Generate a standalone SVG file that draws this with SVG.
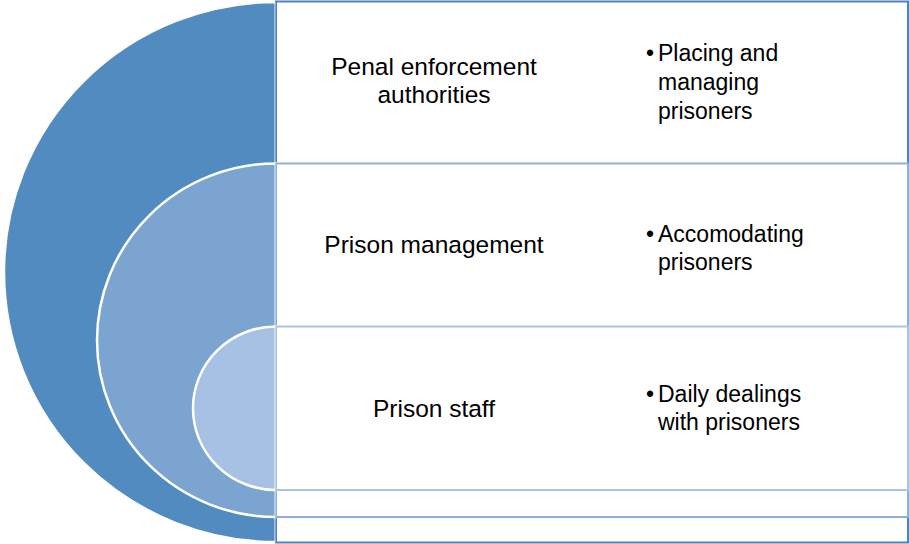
<svg xmlns="http://www.w3.org/2000/svg" width="909" height="544" viewBox="0 0 909 544">
  <style>
    .arc { stroke: #ffffff; stroke-width: 2.5; }
    .box { fill: #ffffff; stroke-width: 2; }
    .lbl { font-family: "Liberation Sans", Arial, sans-serif; font-size: 23px; fill: #000000; }
    .mid { text-anchor: middle; font-size: 24.5px; }
  </style>
  <rect x="0" y="0" width="909" height="544" fill="#ffffff"/>
  <g id="level1">
    <path class="arc" d="M276,2 A272,270 0 0 0 276,542 Z" fill="#528BBF"/>
    <rect class="box" x="276" y="1.5" width="632" height="541" stroke="#4F81BD"/>
    <text class="lbl mid" x="434" y="75">Penal enforcement</text>
    <text class="lbl mid" x="434" y="103">authorities</text>
    <text class="lbl" x="646" y="61">•</text>
    <text class="lbl" x="658" y="61">Placing and</text>
    <text class="lbl" x="658" y="90">managing</text>
    <text class="lbl" x="658" y="119">prisoners</text>
  </g>
  <g id="level2">
    <path class="arc" d="M276,163.5 A179,176.75 0 0 0 276,517 Z" fill="#7BA5D0"/>
    <rect class="box" x="276" y="163.5" width="632" height="353.5" stroke="#8DB0DA"/>
    <text class="lbl mid" x="434" y="253">Prison management</text>
    <text class="lbl" x="646" y="242">•</text>
    <text class="lbl" x="658" y="242">Accomodating</text>
    <text class="lbl" x="658" y="270">prisoners</text>
  </g>
  <g id="level3">
    <path class="arc" d="M276,326.5 A83,81.75 0 0 0 276,490 Z" fill="#A6C1E3"/>
    <rect class="box" x="276" y="326.5" width="632" height="163.5" stroke="#A9C3E5"/>
    <text class="lbl mid" x="434" y="417">Prison staff</text>
    <text class="lbl" x="646" y="402">•</text>
    <text class="lbl" x="658" y="402">Daily dealings</text>
    <text class="lbl" x="658" y="430">with prisoners</text>
  </g>
  <g id="connectors">
    <line x1="275" y1="2" x2="275" y2="543" stroke="#ffffff" stroke-opacity="0.3" stroke-width="2"/>
  </g>
</svg>
